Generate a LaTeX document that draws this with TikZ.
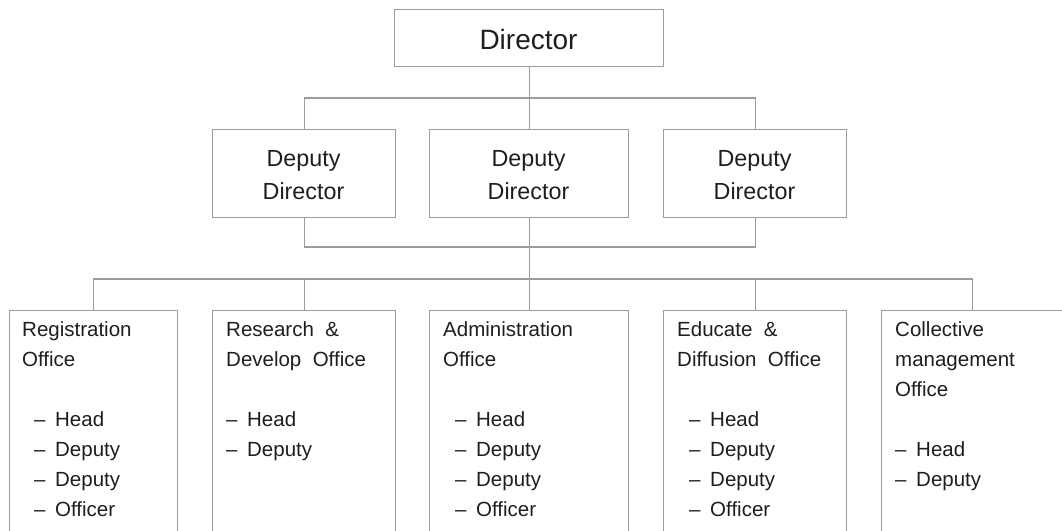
\documentclass[tikz,border=0pt]{standalone}
\usepackage{fontspec}
\setmainfont{Liberation Sans}
\definecolor{linegray}{HTML}{9C9C9C}
\definecolor{ink}{HTML}{1E1E1E}
\newcommand\offtext[1]{\parbox[t]{200pt}{\raggedright\fontsize{20.5}{30}\selectfont #1}}
\newcommand\deptext[1]{\parbox[t]{180pt}{\centering\fontsize{23.3}{33}\selectfont #1}}
\newcommand\dashitem[1][0pt]{\hspace*{#1}\makebox[21pt][l]{–}}
\begin{document}
\begin{tikzpicture}[x=1pt,y=-1pt,
  box/.style={draw=linegray, line width=1.2pt, rectangle, inner sep=0pt, anchor=north west},
  conn/.style={draw=linegray, line width=1.2pt},
  txt/.style={inner sep=0pt, text=ink}]
\useasboundingbox (0,0) rectangle (1062,530);
\clip (0,0) rectangle (1062,530);
% boxes
\node[box, minimum width=269, minimum height=57] (dir) at (394,9) {};
\node[box, minimum width=183, minimum height=88] (d1) at (212,129) {};
\node[box, minimum width=199, minimum height=88] (d2) at (429,129) {};
\node[box, minimum width=183, minimum height=88] (d3) at (663,129) {};
\node[box, minimum width=168, minimum height=240] (o1) at (9,310) {};
\node[box, minimum width=183, minimum height=240] (o2) at (212,310) {};
\node[box, minimum width=199, minimum height=240] (o3) at (429,310) {};
\node[box, minimum width=183, minimum height=240] (o4) at (663,310) {};
\node[box, minimum width=182, minimum height=240] (o5) at (881,310) {};
% connectors
\coordinate (busA) at (528.5,98);
\coordinate (busB) at (528.5,247);
\coordinate (busC) at (528.5,279);
\draw[conn] (dir.south) -- (d2.north);
\draw[conn] (d1.north) |- (busA) -| (d3.north);
\draw[conn] (d1.south) |- (busB) -| (d3.south);
\draw[conn] (d2.south) -- (o3.north);
\draw[conn] (o1.north) |- (busC) -| (o5.north);
\draw[conn] (o2.north) -- (o2.north |- busC);
\draw[conn] (o4.north) -- (o4.north |- busC);
% texts
\node[txt, anchor=base, font=\fontsize{28}{32}\selectfont] (tdir) at (528.5,49.3) {Director};
\node[txt, anchor=base] (td1) at (303.5,166.5) {\deptext{Deputy\\Director}};
\node[txt, anchor=base] (td2) at (528.5,166.5) {\deptext{Deputy\\Director}};
\node[txt, anchor=base] (td3) at (754.5,166.5) {\deptext{Deputy\\Director}};
\node[txt, anchor=base west] (to1) at (22,336.7) {\offtext{Registration\\Office\\[30pt]\dashitem[12pt]Head\\\dashitem[12pt]Deputy\\\dashitem[12pt]Deputy\\\dashitem[12pt]Officer}};
\node[txt, anchor=base west] (to2) at (226,336.7) {\offtext{Research \ \&\\Develop \ Office\\[30pt]\dashitem Head\\\dashitem Deputy}};
\node[txt, anchor=base west] (to3) at (443,336.7) {\offtext{Administration\\Office\\[30pt]\dashitem[12pt]Head\\\dashitem[12pt]Deputy\\\dashitem[12pt]Deputy\\\dashitem[12pt]Officer}};
\node[txt, anchor=base west] (to4) at (677,336.7) {\offtext{Educate \ \&\\Diffusion \ Office\\[30pt]\dashitem[12pt]Head\\\dashitem[12pt]Deputy\\\dashitem[12pt]Deputy\\\dashitem[12pt]Officer}};
\node[txt, anchor=base west] (to5) at (895,336.7) {\offtext{Collective\\management\\Office\\[30pt]\dashitem Head\\\dashitem Deputy}};
\end{tikzpicture}
\end{document}
